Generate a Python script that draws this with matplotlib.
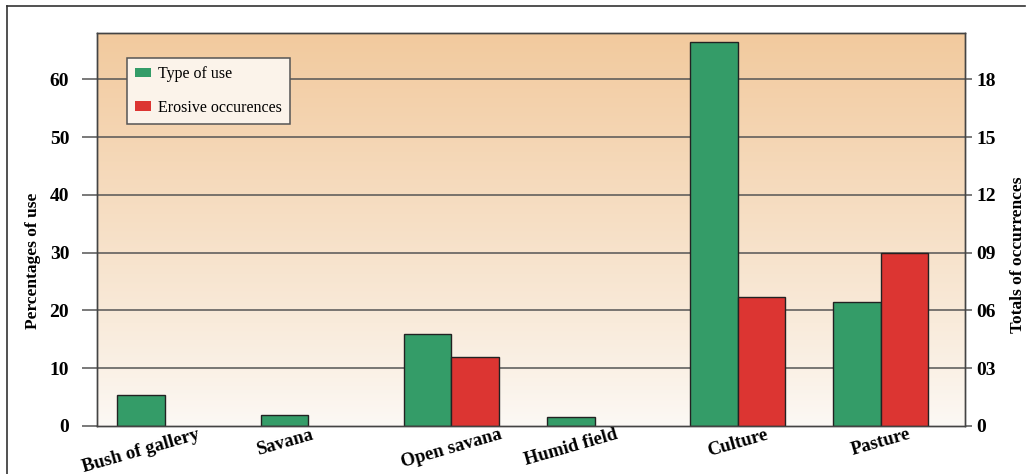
import matplotlib.pyplot as plt
import numpy as np
from matplotlib.lines import Line2D

categories = ['Bush of gallery', 'Savana', 'Open savana', 'Humid field', 'Culture', 'Pasture']
type_of_use = [5.3, 1.9, 16.0, 1.5, 66.5, 21.5]      # percentages of use
erosive = [0, 0, 3.6, 0, 6.7, 9.0]                   # totals of occurrences

left_ticks = [0, 10, 20, 30, 40, 50, 60]
right_ticks = [0, 3, 6, 9, 12, 15, 18]
right_tick_labels = ['0', '03', '06', '09', '12', '15', '18']

green = '#349c68'
red = '#dc3532'
serif = 'Liberation Serif'

fig = plt.figure(figsize=(10.31, 4.74), dpi=100)
ax = fig.add_axes([97 / 1031, 48 / 474, 868 / 1031, 393 / 474])
ax2 = ax.twinx()

# frame around the figure (top and left only)
fig.add_artist(Line2D([7 / 1031, 1025 / 1031], [468 / 474, 468 / 474], color='#333', lw=1.2))
fig.add_artist(Line2D([7 / 1031, 7 / 1031], [0, 468 / 474], color='#333', lw=1.2))

ymax = 68
ax.set_ylim(0, ymax)
ax2.set_ylim(0, ymax * 0.3)
x = np.arange(len(categories))
w = 0.332
ax.set_xlim(-0.475, 5.587)

# peach-to-white background
grad = np.linspace(0, 1, 256).reshape(-1, 1)
top = np.array([242, 202, 158]) / 255
bottom = np.array([252, 249, 245]) / 255
img = bottom + (top - bottom) * grad[..., None] ** 0.9
ax.imshow(img, aspect='auto', extent=[-0.475, 5.587, 0, ymax], origin='lower', zorder=0)
ax.patch.set_visible(False)

for y in left_ticks[1:]:
    ax.axhline(y, color='#555', lw=1.1, zorder=1)

ax.bar(x - w / 2, type_of_use, w, color=green, edgecolor='#222', lw=1, zorder=2, label='Type of use')
has_red = [e > 0 for e in erosive]
ax2.bar((x + w / 2)[has_red], np.array(erosive)[has_red], w, color=red, edgecolor='#222', lw=1,
        zorder=2, label='Erosive occurences')

# category labels centred on the bars actually drawn
label_pos = [xi - w / 2 if e == 0 else xi for xi, e in zip(x, erosive)]
ax.set_xticks(label_pos)
ax.set_xticklabels(categories, rotation=16, fontfamily=serif, fontweight='bold', fontsize=13.5)
ax.tick_params(axis='x', length=0, pad=0)

ax.set_yticks(left_ticks)
ax.set_yticklabels([str(t) for t in left_ticks], fontfamily=serif, fontweight='bold', fontsize=14)
ax.tick_params(axis='y', length=11, color='#555', width=1.1, pad=9)
ax2.set_yticks(right_ticks)
ax2.set_yticklabels(right_tick_labels, fontfamily=serif, fontweight='bold', fontsize=14)
ax2.tick_params(axis='y', length=5, color='#555', width=1.1, pad=3)

fig.text(33 / 1031, 1 - 261 / 474, 'Percentages of use', rotation=90, ha='center', va='center',
         fontfamily=serif, fontweight='bold', fontsize=12.5)
fig.text(1018 / 1031, 1 - 255 / 474, 'Totals of occurrences', rotation=90, ha='center', va='center',
         fontfamily=serif, fontweight='bold', fontsize=12.5)

for a in (ax, ax2):
    for s in a.spines.values():
        s.set_color('#444')
        s.set_linewidth(1)

h1, l1 = ax.get_legend_handles_labels()
h2, l2 = ax2.get_legend_handles_labels()
leg = ax2.legend(h1 + h2, l1 + l2, loc='upper left', bbox_to_anchor=(0.0346, 0.936),
                 prop={'family': serif, 'size': 11.5}, fancybox=False, edgecolor='#555',
                 facecolor='#fbf3ea', framealpha=1, handlelength=1.0, handleheight=0.5,
                 labelspacing=1.1, borderpad=0.5, handletextpad=0.45, borderaxespad=0)
leg.get_frame().set_linewidth(1.1)
for p in leg.get_patches():
    p.set_edgecolor('none')

fig.savefig('out.png', dpi=100)
